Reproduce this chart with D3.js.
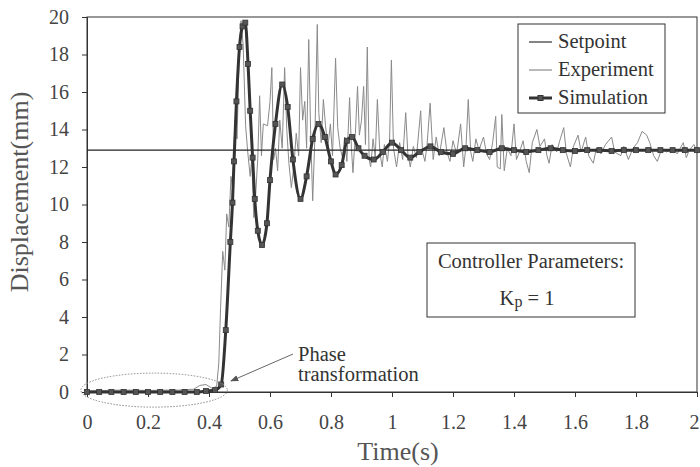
<!DOCTYPE html>
<html>
<head>
<meta charset="utf-8">
<script src="https://cdn.jsdelivr.net/npm/d3@7"></script>
<style>
  body { margin: 0; background: #fff; }
  svg { display: block; }
</style>
</head>
<body>
<svg width="700" height="467"></svg>
<script>
var svg = d3.select("svg");
var width = +svg.attr("width");
var height = +svg.attr("height");
var serif = "Liberation Serif";

// chart data
var setpoint = 12.9;

var simTime = [0, 0.04, 0.08, 0.12, 0.16, 0.2, 0.24, 0.28, 0.32, 0.36, 0.39, 0.42, 0.44, 0.455, 0.47, 0.477,
    0.482, 0.49, 0.5, 0.51, 0.519, 0.528, 0.535, 0.543, 0.55, 0.56, 0.574, 0.59, 0.6, 0.618, 0.64, 0.658,
    0.675, 0.7, 0.72, 0.74, 0.759, 0.78, 0.8, 0.815, 0.835, 0.852, 0.869, 0.89, 0.91, 0.94, 0.97, 1.0,
    1.03, 1.06, 1.09, 1.126, 1.16, 1.2, 1.24, 1.28, 1.32, 1.36, 1.4, 1.44, 1.48, 1.52, 1.56, 1.6,
    1.64, 1.68, 1.72, 1.76, 1.8, 1.84, 1.88, 1.92, 1.96, 2.0];
var simValue = [0, 0, 0, 0, 0, 0, 0, 0, 0, 0, 0.05, 0.1, 0.4, 3.3, 8, 10.1,
    12.3, 15.5, 18.4, 19.5, 19.7, 17.5, 15, 12.5, 10.3, 8.6, 7.84, 9, 11.3, 14.3, 16.4, 15.2,
    12.4, 10.3, 11.5, 13.5, 14.3, 13.6, 12.3, 11.6, 12.1, 13.4, 13.6, 13.0, 12.6, 12.4, 12.8, 13.3,
    12.9, 12.5, 12.8, 13.1, 12.8, 12.7, 13.0, 12.9, 12.8, 13.0, 12.9, 12.8, 12.9, 13.0, 12.9, 12.85,
    12.9, 12.9, 12.85, 12.9, 12.9, 12.9, 12.9, 12.9, 12.9, 12.9];

var expTime = [0, 0.05, 0.1, 0.15, 0.2, 0.25, 0.3, 0.35, 0.37, 0.39,
    0.41, 0.425, 0.432, 0.438, 0.445, 0.452, 0.458, 0.465, 0.472, 0.478,
    0.485, 0.492, 0.498, 0.505, 0.512, 0.52, 0.527, 0.535, 0.54, 0.547,
    0.553, 0.56, 0.566, 0.572, 0.578, 0.592, 0.6, 0.606, 0.612, 0.618,
    0.625, 0.632, 0.64, 0.648, 0.655, 0.662, 0.67, 0.678, 0.686, 0.694,
    0.7, 0.707, 0.714, 0.72, 0.727, 0.733, 0.74, 0.747, 0.755, 0.76,
    0.768, 0.775, 0.782, 0.79, 0.798, 0.805, 0.815, 0.822, 0.83, 0.838,
    0.845, 0.852, 0.861, 0.867, 0.872, 0.88, 0.887, 0.893, 0.9, 0.907,
    0.913, 0.919, 0.925, 0.93, 0.938, 0.945, 0.952, 0.96, 0.968, 0.975,
    0.985, 0.992, 0.998, 1.005, 1.015, 1.025, 1.035, 1.045, 1.052, 1.06,
    1.07, 1.08, 1.094, 1.1, 1.108, 1.115, 1.125, 1.135, 1.145, 1.155,
    1.17, 1.18, 1.19, 1.2, 1.212, 1.225, 1.235, 1.243, 1.25, 1.258,
    1.265, 1.275, 1.285, 1.3, 1.31, 1.32, 1.33, 1.34, 1.345, 1.355,
    1.36, 1.368, 1.378, 1.39, 1.4, 1.408, 1.42, 1.43, 1.44, 1.45,
    1.46, 1.475, 1.485, 1.5, 1.508, 1.515, 1.525, 1.54, 1.55, 1.563,
    1.572, 1.585, 1.595, 1.61, 1.62, 1.635, 1.645, 1.66, 1.67, 1.685,
    1.7, 1.72, 1.73, 1.75, 1.76, 1.775, 1.79, 1.805, 1.82, 1.835,
    1.845, 1.858, 1.87, 1.885, 1.9, 1.92, 1.935, 1.955, 1.965, 1.975,
    1.99, 2.0];
var expValue = [0.05, 0.08, 0.1, 0.1, 0.08, 0.1, 0.1, 0.15, 0.35, 0.4,
    0.2, 0.3, 1.5, 4.5, 7.5, 6.5, 9.5, 8.8, 11.5, 10.8,
    14.5, 13.5, 17.5, 19.8, 18.5, 14.2, 12.8, 11.5, 12.4, 9.3,
    10.5, 12.5, 15.8, 12.6, 14.3, 14.2, 15.5, 17.3, 12.4, 13.0,
    11.8, 14.5, 13.0, 17.3, 14.0, 12.2, 10.9, 12.0, 13.8, 12.6,
    17.3, 14.5, 15.5, 13.0, 18.8, 14.0, 10.2, 13.5, 19.6, 14.9,
    13.3, 15.6, 14.2, 13.1, 14.3, 12.6, 17.8, 14.1, 13.0, 12.5,
    13.6, 12.3, 15.7, 13.0, 11.7, 13.8, 16.3, 13.7, 14.5, 16.3,
    13.2, 18.4, 12.4, 12.0, 13.5, 12.5, 15.6, 12.8, 12.0, 13.2,
    12.3, 13.4, 17.7, 13.0, 12.0, 13.3, 12.4, 14.9, 12.7, 12.0,
    13.1, 12.5, 15.0, 12.8, 12.3, 13.2, 15.4, 12.4, 13.6, 12.6,
    14.1, 12.8, 12.3, 13.4, 12.7, 14.3, 12.0, 13.2, 15.6, 12.8,
    12.3, 13.5, 12.9, 13.6, 12.7, 12.4, 13.3, 14.7, 12.0, 11.9,
    14.8, 11.8, 13.0, 12.6, 14.3, 12.4, 12.9, 13.4, 12.3, 11.7,
    13.3, 14.0, 13.1, 13.5, 12.6, 12.2, 13.2, 12.8, 13.4, 14.1,
    12.7, 12.0, 13.1, 13.7, 12.8, 13.6, 12.6, 12.2, 13.0, 12.7,
    13.2, 13.6, 12.8, 12.6, 13.1, 12.4, 13.0, 13.3, 13.9, 13.7,
    13.3, 12.6, 12.3, 13.0, 12.8, 13.0, 12.7, 13.3, 12.5, 12.9,
    13.2, 12.8];

var xTicks = [0, 0.2, 0.4, 0.6, 0.8, 1, 1.2, 1.4, 1.6, 1.8, 2];
var yTicks = [0, 2, 4, 6, 8, 10, 12, 14, 16, 18, 20];
var legendNames = ["Setpoint", "Experiment", "Simulation"];

var simData = simTime.map(function(t, i) { return { t: t, v: simValue[i] }; });
var expData = expTime.map(function(t, i) { return { t: t, v: expValue[i] }; });

var margin = { top: 17, right: 3, bottom: 75, left: 87 };

var x = d3.scaleLinear().domain([0, 2]).range([margin.left, width - margin.right]);
var y = d3.scaleLinear().domain([0, 20]).range([height - margin.bottom, margin.top]);

// frame
svg.append("rect")
    .attr("x", x(0))
    .attr("y", y(20))
    .attr("width", x(2) - x(0))
    .attr("height", y(0) - y(20))
    .attr("fill", "none")
    .attr("stroke", "#333")
    .attr("stroke-width", 1);

// axes
var xAxis = svg.append("g")
    .attr("transform", "translate(0," + y(0) + ")")
    .call(d3.axisBottom(x).tickValues(xTicks).tickSize(5).tickPadding(18)
        .tickFormat(function(d) { return d3.format("")(d); }));
var yAxis = svg.append("g")
    .attr("transform", "translate(" + x(0) + ",0)")
    .call(d3.axisLeft(y).tickValues(yTicks).tickSize(5).tickPadding(13));

[xAxis, yAxis].forEach(function(g) {
    g.attr("font-family", serif).attr("font-size", 20);
    g.select(".domain").attr("stroke", "#333");
    g.selectAll(".tick line").attr("stroke", "#333");
    g.selectAll(".tick text")
        .attr("fill", "#444")
        .attr("font-family", serif)
        .attr("font-size", 20);
});
// last label sits on the page edge
xAxis.selectAll(".tick text").filter(function(d) { return d === 2; }).attr("dx", -3);

function label(sel, size, color) {
    return sel.attr("font-family", serif).attr("font-size", size).attr("fill", color);
}

// axis titles
label(svg.append("text"), 26, "#555")
    .attr("x", 398)
    .attr("y", 460)
    .attr("text-anchor", "middle")
    .text("Time(s)");

label(svg.append("text"), 26, "#555")
    .attr("transform", "translate(28,192) rotate(-90)")
    .attr("text-anchor", "middle")
    .text("Displacement(mm)");

// series
var line = d3.line()
    .x(function(d) { return x(d.t); })
    .y(function(d) { return y(d.v); });

svg.append("path")
    .datum(expData)
    .attr("d", line)
    .attr("fill", "none")
    .attr("stroke", "#8a8a8a")
    .attr("stroke-width", 1);

svg.append("line")
    .attr("x1", x(0))
    .attr("x2", x(2))
    .attr("y1", y(setpoint))
    .attr("y2", y(setpoint))
    .attr("stroke", "#222")
    .attr("stroke-width", 1.2);

svg.append("path")
    .datum(simData)
    .attr("d", line.curve(d3.curveMonotoneX))
    .attr("fill", "none")
    .attr("stroke", "#333")
    .attr("stroke-width", 3);

svg.append("g")
    .selectAll("rect")
    .data(simData)
    .enter()
    .append("rect")
    .attr("x", function(d) { return x(d.t) - 2.5; })
    .attr("y", function(d) { return y(d.v) - 2.5; })
    .attr("width", 5)
    .attr("height", 5)
    .attr("fill", "#555")
    .attr("stroke", "#333")
    .attr("stroke-width", 0.8);

// legend
var legend = svg.append("g");
legend.append("rect")
    .attr("x", 518)
    .attr("y", 24)
    .attr("width", 147)
    .attr("height", 89)
    .attr("fill", "#fff")
    .attr("stroke", "#333");

legendNames.forEach(function(name, i) {
    var ly = 42 + i * 28;
    legend.append("line")
        .attr("x1", 529).attr("x2", 552)
        .attr("y1", ly).attr("y2", ly)
        .attr("stroke", i === 1 ? "#8a8a8a" : "#333")
        .attr("stroke-width", i === 2 ? 3 : 1.2);
    if (i === 2) {
        legend.append("rect")
            .attr("x", 538).attr("y", ly - 2.5)
            .attr("width", 5).attr("height", 5)
            .attr("fill", "#555").attr("stroke", "#333");
    }
    label(legend.append("text"), 20.5, "#333")
        .attr("x", 558)
        .attr("y", ly + 6)
        .text(name);
});

// controller box
var box = svg.append("g");
box.append("rect")
    .attr("x", 427)
    .attr("y", 243)
    .attr("width", 208)
    .attr("height", 74)
    .attr("fill", "#fff")
    .attr("stroke", "#333");
label(box.append("text"), 20.5, "#333")
    .attr("x", 531)
    .attr("y", 268)
    .attr("text-anchor", "middle")
    .text("Controller Parameters:");
var kp = label(box.append("text"), 20.5, "#333")
    .attr("x", 527)
    .attr("y", 305)
    .attr("text-anchor", "middle");
kp.append("tspan").text("K");
kp.append("tspan").attr("dy", 2).attr("font-size", 16).text("p");
kp.append("tspan").attr("dy", -2).text(" = 1");

// annotation
svg.append("defs").append("marker")
    .attr("id", "arrow")
    .attr("viewBox", "0 0 10 10")
    .attr("refX", 9).attr("refY", 5)
    .attr("markerWidth", 8).attr("markerHeight", 8)
    .attr("orient", "auto")
    .append("path")
    .attr("d", "M0,1 L10,5 L0,9 Z")
    .attr("fill", "#555");

svg.append("line")
    .attr("x1", 293).attr("y1", 354)
    .attr("x2", 231).attr("y2", 381)
    .attr("stroke", "#666")
    .attr("stroke-width", 1)
    .attr("marker-end", "url(#arrow)");

label(svg.append("text"), 20.5, "#333")
    .attr("x", 298)
    .attr("y", 361)
    .text("Phase");
label(svg.append("text"), 20.5, "#333")
    .attr("x", 298)
    .attr("y", 381)
    .text("transformation");

svg.append("ellipse")
    .attr("cx", x(0.22))
    .attr("cy", y(0.1))
    .attr("rx", x(0.24) - x(0))
    .attr("ry", 17)
    .attr("fill", "none")
    .attr("stroke", "#888")
    .attr("stroke-width", 1)
    .attr("stroke-dasharray", "1.5,1.5");
</script>
</body>
</html>
